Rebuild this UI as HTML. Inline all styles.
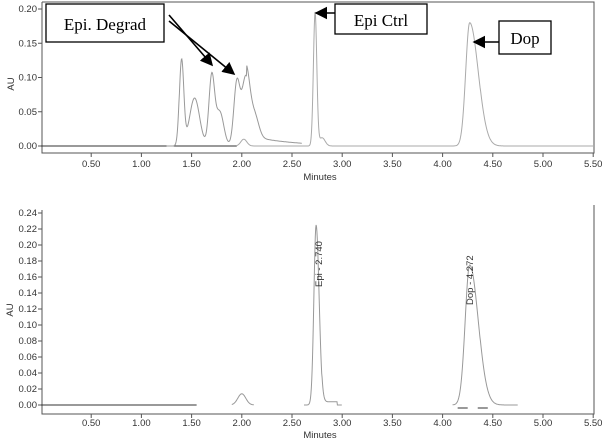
<!DOCTYPE html>
<html><head><style>
body{margin:0;background:#fff}
svg{display:block;font-family:"Liberation Sans",sans-serif}
.t{font-size:9.5px;fill:#333}
.b{font-family:"Liberation Serif",serif;font-size:17px;fill:#000}
</style></head><body>
<svg id="s" width="604" height="441" viewBox="0 0 604 441" xmlns="http://www.w3.org/2000/svg">
<defs><marker id="ar" markerWidth="8" markerHeight="8" refX="7" refY="4" orient="auto"><path d="M0,0L8,4L0,8z" fill="#000"/></marker></defs>
<g stroke="#555" fill="none" stroke-width="1">
<path d="M42,2V153H594V2H42"/>
<path d="M42,210V414H594V205"/>
</g>
<g id="ticks"></g>
<text class="t" x="8" y="90" transform="rotate(-90 8 84)" text-anchor="middle">AU</text>
<text class="t" x="8" y="315" transform="rotate(-90 8 310)" text-anchor="middle">AU</text>
<text class="t" x="320" y="180" text-anchor="middle">Minutes</text>
<text class="t" x="320" y="438" text-anchor="middle">Minutes</text>
<g id="curves" fill="none" stroke-width="1"></g>
<text class="t" x="322" y="287" transform="rotate(-90 322 287)" font-size="11">Epi - 2.740</text>
<text class="t" x="473" y="305" transform="rotate(-90 473 305)" font-size="11">Dop - 4.272</text>
<rect x="46" y="4" width="118" height="38" fill="#fff" stroke="#000" stroke-width="1.3"/>
<text class="b" x="105" y="30" text-anchor="middle">Epi. Degrad</text>
<rect x="335" y="4" width="92" height="30" fill="#fff" stroke="#000" stroke-width="1.3"/>
<text class="b" x="381" y="26" text-anchor="middle">Epi Ctrl</text>
<rect x="499" y="21" width="52" height="33" fill="#fff" stroke="#000" stroke-width="1.3"/>
<text class="b" x="525" y="44" text-anchor="middle">Dop</text>
<g stroke="#000" stroke-width="1.6" marker-end="url(#ar)">
<line x1="169" y1="15" x2="212" y2="65"/>
<line x1="169" y1="21" x2="234" y2="74"/>
<line x1="335" y1="13" x2="316" y2="13"/>
<line x1="499" y1="42" x2="474" y2="42"/>
</g>
</svg>
<script>
const X=t=>41+100.4*t;
const Y1=v=>146-v*685, Y2=v=>405-v*800;
let tk='';
for(let i=1;i<=11;i++){let t=i*0.5,x=X(t);
 tk+=`<line x1="${x}" y1="153" x2="${x}" y2="157" stroke="#555"/><text class="t" x="${x}" y="167" text-anchor="middle">${t.toFixed(2)}</text>`;
 tk+=`<line x1="${x}" y1="414" x2="${x}" y2="418" stroke="#555"/><text class="t" x="${x}" y="426" text-anchor="middle">${t.toFixed(2)}</text>`;}
for(let i=0;i<=4;i++){let v=i*0.05,y=Y1(v);
 tk+=`<line x1="38" y1="${y}" x2="42" y2="${y}" stroke="#555"/><text class="t" x="37" y="${y+3}" text-anchor="end">${v.toFixed(2)}</text>`;}
for(let i=0;i<=12;i++){let v=i*0.02,y=Y2(v);
 tk+=`<line x1="38" y1="${y}" x2="42" y2="${y}" stroke="#555"/><text class="t" x="37" y="${y+3}" text-anchor="end">${v.toFixed(2)}</text>`;}
document.getElementById('ticks').innerHTML=tk;
const g=(t,c,h,w)=>h*Math.exp(-((t-c)**2)/(2*w*w));
const tg=(t,c,h,w1,w2)=>h*Math.exp(-((t-c)**2)/(2*(t<c?w1:w2)**2));
function path(f,a,b,Y){let d='';for(let t=a;t<=b;t+=0.004){d+=(d?'L':'M')+X(t).toFixed(1)+','+Y(f(t)).toFixed(1);}return d;}
const A=t=>(t<1.32?0:g(t,1.40,0.125,0.022)+g(t,1.53,0.07,0.05)+g(t,1.70,0.1,0.028)+g(t,1.78,0.05,0.04)+g(t,1.95,0.09,0.03)+g(t,2.04,0.1,0.04)+g(t,2.13,0.03,0.04)+(t>2.05&&t<2.6?0.016*Math.exp(-(t-2.05)*2.5):0)+g(t,2.72,0.045,0.018)+g(t,2.80,0.02,0.03));
const B=t=>g(t,2.73,0.195,0.017)+g(t,2.8,0.012,0.03)+tg(t,4.27,0.18,0.04,0.085)+g(t,2.02,0.01,0.03);
const C=t=>tg(t,2.74,0.225,0.022,0.03)+tg(t,4.27,0.175,0.045,0.085)+g(t,2.0,0.014,0.04)+(t>2.8&&t<2.95?0.004:0);
let cv=`<path d="M${X(0)},${Y1(0)}H${X(1.95)}" stroke="#333"/>`;
cv+=`<path d="${path(A,1.25,2.6,Y1)}" stroke="#999"/>`;
cv+=`<path d="${path(B,1.95,5.5,Y1)}" stroke="#aaa"/>`;
cv+=`<path d="M${X(0)},${Y2(0)}H${X(1.55)}" stroke="#333"/>`;
cv+=`<path d="${path(C,1.9,2.12,Y2)}" stroke="#999"/>`;
cv+=`<path d="${path(C,2.62,3.0,Y2)}" stroke="#999"/>`;
cv+=`<path d="${path(C,4.1,4.75,Y2)}" stroke="#999"/>`;
cv+=`<path d="M${X(4.15)},408H${X(4.25)}M${X(4.35)},408H${X(4.45)}" stroke="#333"/>`;
document.getElementById('curves').innerHTML=cv;
</script>
</body></html>
